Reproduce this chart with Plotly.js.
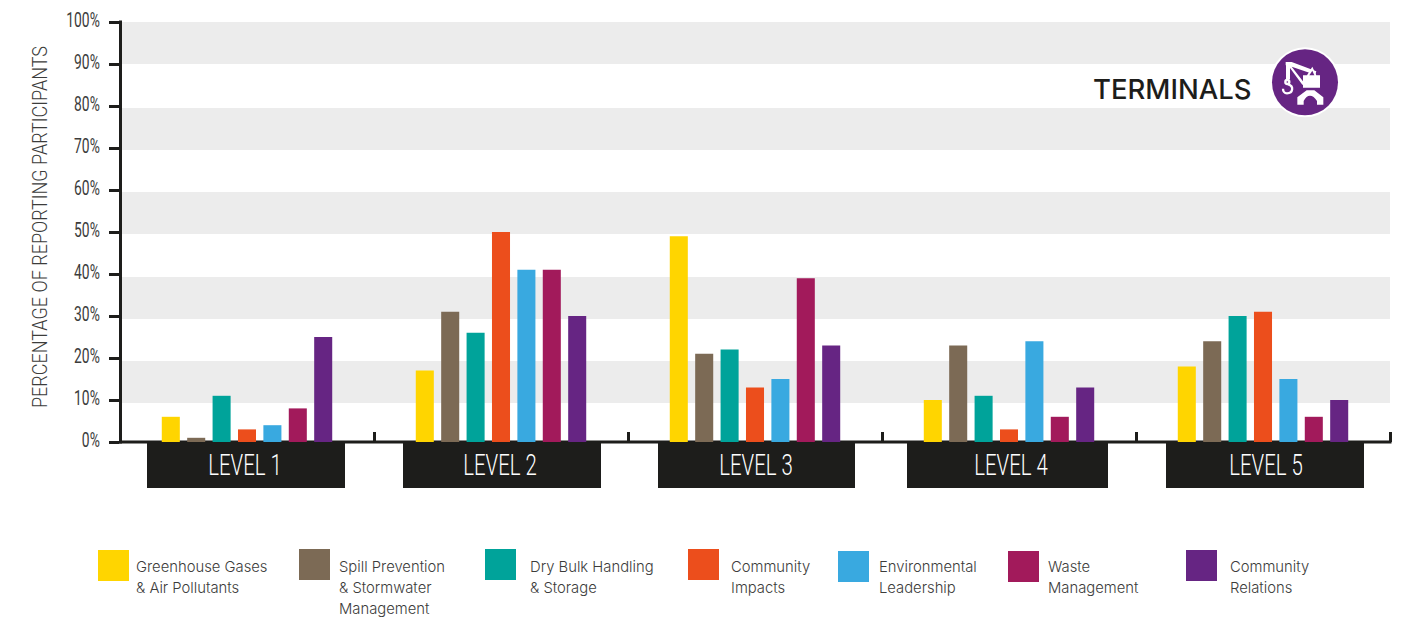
<!DOCTYPE html>
<html><head><meta charset="utf-8">
<script src="https://cdn.plot.ly/plotly-3.0.1.min.js"></script>
<style>html,body{margin:0;padding:0;background:#fff}#chart{width:1404px;height:618px}</style>
</head><body><div id="chart"></div>
<script>
const levels = ["LEVEL 1","LEVEL 2","LEVEL 3","LEVEL 4","LEVEL 5"];
const seriesNames = ["Greenhouse Gases & Air Pollutants","Spill Prevention & Stormwater Management","Dry Bulk Handling & Storage","Community Impacts","Environmental Leadership","Waste Management","Community Relations"];
const colors = ["#FFD500","#7C6A55","#00A39A","#EC4E1C","#39A9E0","#A21A5B","#662583"];
const greenhouse = [6,17,49,10,18];
const spill = [1,31,21,23,24];
const dryBulk = [11,26,22,11,30];
const community = [3,50,13,3,31];
const environmental = [4,41,15,24,15];
const waste = [8,41,39,6,6];
const relations = [25,30,23,13,10];
const allSeries = [greenhouse,spill,dryBulk,community,environmental,waste,relations];
const yTicks = [0,10,20,30,40,50,60,70,80,90,100];
const legendLines = [["Greenhouse Gases","& Air Pollutants"],["Spill Prevention","& Stormwater","Management"],["Dry Bulk Handling","& Storage"],["Community","Impacts"],["Environmental","Leadership"],["Waste","Management"],["Community","Relations"]];
const legendSwatchX = [98,299,485,688,838,1008,1186];
const legendSwatchY = [550,549,549,549,551,551,550];
const legendTextX = [134,337,528,729,877,1046,1228];
const boxSpans = [[147,345],[403,601],[658,855],[907,1108],[1166,1364]];
const bandSpans = [[22,64],[108,150],[192,234],[277,319],[361,403]];
const labelShift = [-2,-1,1,2,3];

const W=1404,H=618,L=120,R=1390,T=22,B=442;
const px=x=>(x-L)/(R-L), py=y=>(B-y)/(B-T);
const thin='Roboto,sans-serif';
const body='Inter,sans-serif';
const dark='#1D1D1B';

const traces = allSeries.map((v,i)=>({type:'bar',x:levels,y:v,name:seriesNames[i],marker:{color:colors[i],line:{width:0}},hoverinfo:'x+y+name'}));

const shapes=[];
bandSpans.forEach(s=>shapes.push({type:'rect',layer:'below',xref:'paper',yref:'paper',x0:px(122),x1:1,y0:py(s[1]),y1:py(s[0]),fillcolor:'#ECECEC',line:{width:0}}));
shapes.push({type:'line',layer:'below',xref:'paper',yref:'paper',x0:px(120.5),x1:px(120.5),y0:py(443.5),y1:py(20.5),line:{color:dark,width:3}});
shapes.push({type:'line',layer:'below',xref:'paper',yref:'paper',x0:px(119),x1:px(1391.5),y0:py(442),y1:py(442),line:{color:dark,width:3}});
shapes.push({type:'line',layer:'below',xref:'paper',yref:'paper',x0:px(1390.5),x1:px(1390.5),y0:py(442),y1:py(432),line:{color:dark,width:3}});
boxSpans.forEach(s=>shapes.push({type:'rect',layer:'below',xref:'paper',yref:'paper',x0:px(s[0]),x1:px(s[1]),y0:py(488),y1:py(441),fillcolor:dark,line:{width:0}}));
colors.forEach((c,i)=>shapes.push({type:'rect',layer:'below',xref:'paper',yref:'paper',x0:px(legendSwatchX[i]),x1:px(legendSwatchX[i]+31),y0:py(legendSwatchY[i]+31),y1:py(legendSwatchY[i]),fillcolor:c,line:{width:0}}));

const annotations=[];
legendLines.forEach((ls,i)=>ls.forEach((t,j)=>annotations.push({xref:'paper',yref:'paper',x:px(legendTextX[i]),y:py(567+j*21),xanchor:'left',yanchor:'middle',showarrow:false,text:t,font:{family:body,size:14.8,color:'#3c3c3b',weight:300}})));
annotations.push({xref:'paper',yref:'paper',x:px(1254),y:py(89),xanchor:'right',yanchor:'middle',showarrow:false,text:'TERMINALS',font:{family:body,size:27.5,color:dark,weight:500}});

const icon=`<svg xmlns="http://www.w3.org/2000/svg" viewBox="0 0 240 240"><circle cx="120" cy="121" r="105" fill="#fff"/><circle cx="120" cy="121" r="99" fill="#662583"/>
<g fill="#fff"><path d="M62 60H80L154 88L151 98L80 74L122 128H112L75 78V112H63V70H62Z"/><path d="M114 137V100H126L142 74L154 100H165V137Z"/><path d="M97 188V166L125 145H148L175 166V188H156V177Q146 161 135 161Q124 161 116 177V188Z"/></g>
<path d="M133 100L142 86L148 100Z" fill="#662583"/>
<g fill="none" stroke="#fff" stroke-width="7"><circle cx="67" cy="120" r="6"/><path d="M69 127C88 132 84 154 66 154C58 154 54 147 54 140"/></g></svg>`;
const images=[{source:'data:image/svg+xml;utf8,'+encodeURIComponent(icon),xref:'paper',yref:'paper',x:px(1265),y:py(42),sizex:80/(R-L),sizey:80/(B-T),xanchor:'left',yanchor:'top',sizing:'stretch',layer:'above'}];

const layout={
 width:W,height:H,autosize:false,
 margin:{l:L,r:W-R,t:T,b:H-B,pad:0},
 paper_bgcolor:'rgba(0,0,0,0)',plot_bgcolor:'rgba(0,0,0,0)',showlegend:false,
 barmode:'group',bargap:0.3,bargroupgap:0.29,
 font:{family:thin,color:dark},
 xaxis:{type:'category',categoryorder:'array',categoryarray:levels,range:[-0.5,4.5],tickson:'boundaries',ticks:'inside',ticklen:10,tickwidth:3,tickcolor:dark,showline:false,showgrid:false,zeroline:false,tickfont:{family:thin,size:29.5,color:'#fff',weight:300},fixedrange:true},
 yaxis:{range:[0,100],tickmode:'array',tickvals:yTicks,ticktext:yTicks.map(v=>v+'%'),ticks:'outside',ticklen:10,tickwidth:3,tickcolor:dark,showline:false,showgrid:false,zeroline:false,tickfont:{family:thin,size:21,color:'#3c3c3b'},title:{text:'PERCENTAGE OF REPORTING PARTICIPANTS',standoff:18,font:{family:thin,size:19.5,color:'#3c3c3b',weight:300}},fixedrange:true},
 shapes,annotations,images
};
function squeeze(el,target){el.setAttribute('textLength',target);el.setAttribute('lengthAdjust','spacingAndGlyphs');}
Plotly.newPlot('chart',traces,layout,{displayModeBar:false,staticPlot:true}).then(gd=>{
  gd.querySelectorAll('.xtick text').forEach((t,i)=>{
    squeeze(t,t.getComputedTextLength()*0.69);
    const x=parseFloat(t.getAttribute('x'))||0;
    const y=parseFloat(t.getAttribute('y'))||0;
    t.setAttribute('x',x+labelShift[i]);
    t.setAttribute('y',y+2.5);
  });
  gd.querySelectorAll('.ytick text').forEach(t=>{
    squeeze(t,t.getComputedTextLength()*0.66);
    const x=parseFloat(t.getAttribute('x'))||0;
    const y=parseFloat(t.getAttribute('y'))||0;
    t.setAttribute('x',x-5);
    t.setAttribute('y',y-2);
  });
  const yt=gd.querySelector('.ytitle');
  if(yt){squeeze(yt,362);yt.setAttribute('x',47);yt.setAttribute('y',227);yt.setAttribute('transform','rotate(-90,47,227)');}
});
</script></body></html>
